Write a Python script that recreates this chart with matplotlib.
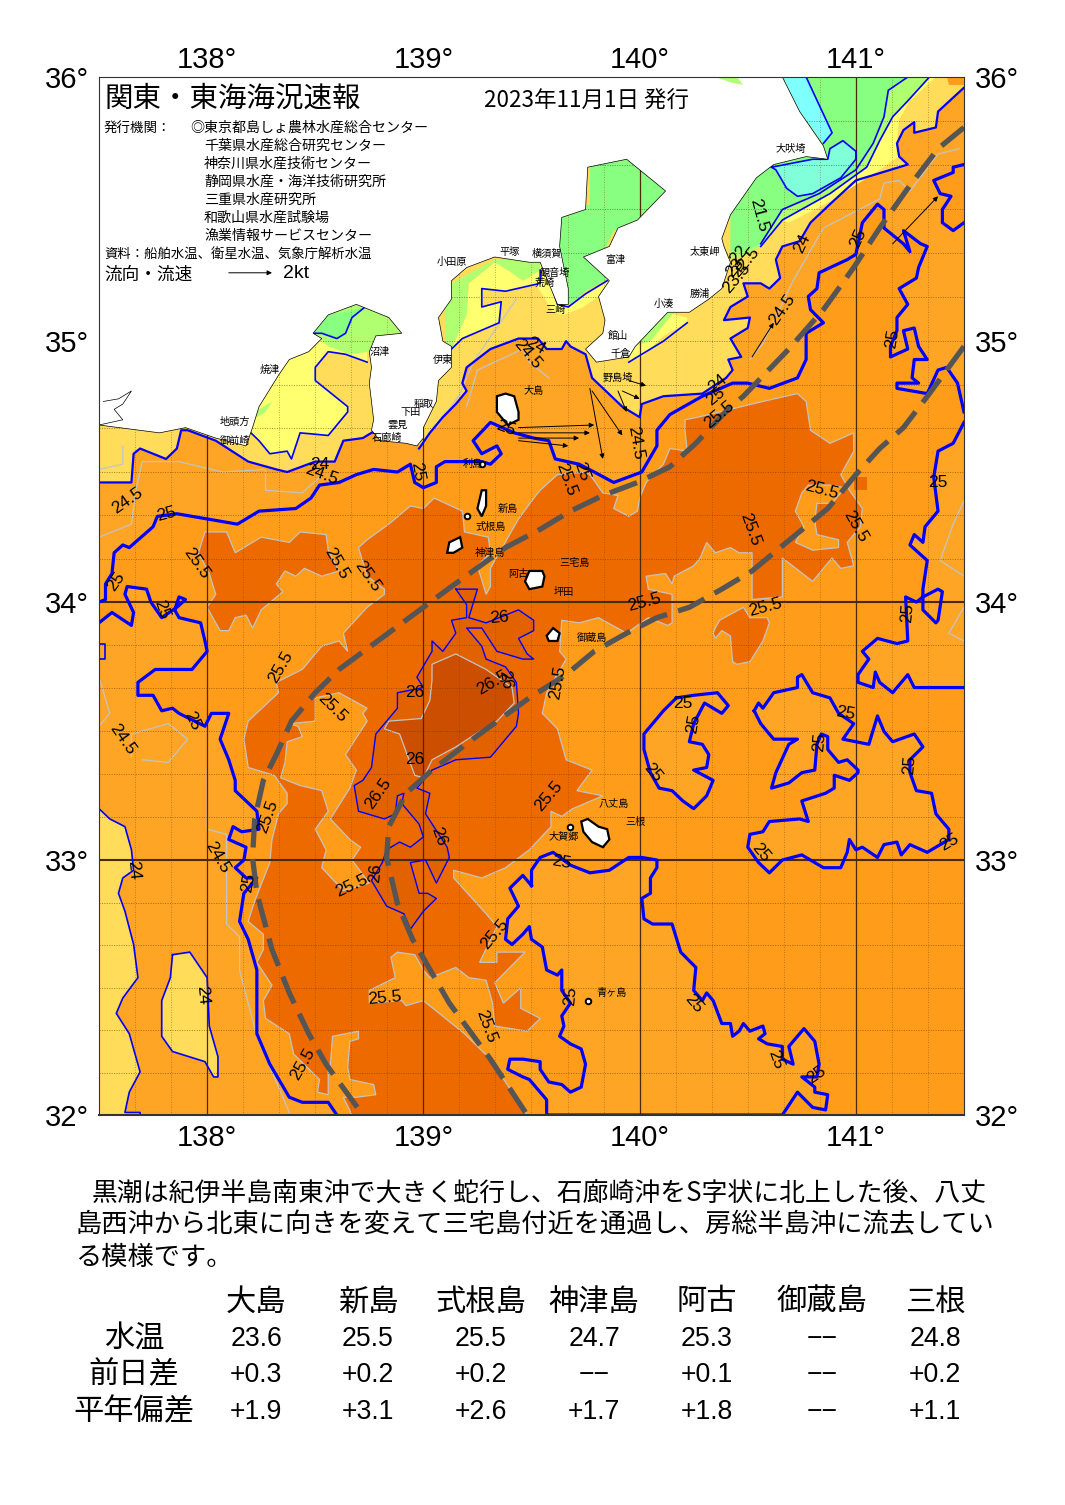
import numpy as np
import matplotlib
matplotlib.use('Agg')
import matplotlib.pyplot as plt

plt.rcParams['font.family'] = ['Noto Sans CJK JP', 'DejaVu Sans']
NUM_FONT = ['Liberation Sans', 'DejaVu Sans']

# map data, (lon, lat)
land = [(137.50,36.00),(137.50,34.68),(137.78,34.65),(137.90,34.67),(138.04,34.63),(138.18,34.60),(138.21,34.67),(138.24,34.75),(138.33,34.87),(138.38,34.93),(138.47,34.96),(138.53,35.01),(138.49,35.03),(138.56,35.10),(138.69,35.14),(138.84,35.09),(138.90,35.03),(138.78,35.02),(138.75,34.96),(138.76,34.90),(138.75,34.84),(138.76,34.77),(138.77,34.70),(138.76,34.66),(138.80,34.62),(138.92,34.61),(138.97,34.60),(139.00,34.63),(139.00,34.67),(139.06,34.77),(139.07,34.85),(139.13,34.90),(139.13,34.98),(139.09,35.00),(139.07,35.09),(139.13,35.16),(139.13,35.23),(139.20,35.28),(139.33,35.32),(139.49,35.30),(139.54,35.30),(139.58,35.22),(139.62,35.14),(139.67,35.14),(139.67,35.20),(139.63,35.36),(139.64,35.47),(139.75,35.50),(139.76,35.66),(139.94,35.69),(140.12,35.57),(139.99,35.46),(139.90,35.43),(139.86,35.36),(139.74,35.32),(139.86,35.23),(139.81,35.17),(139.84,35.08),(139.83,35.03),(139.75,34.97),(139.80,34.92),(139.95,34.94),(139.98,34.98),(140.13,35.11),(140.23,35.11),(140.32,35.16),(140.38,35.20),(140.42,35.30),(140.39,35.36),(140.38,35.39),(140.42,35.48),(140.54,35.62),(140.62,35.67),(140.77,35.70),(140.87,35.69),(140.85,35.74),(140.74,35.87),(140.66,36.00)]
shima_coast = [(137.52,34.77),(137.59,34.78),(137.65,34.81),(137.61,34.76),(137.57,34.74),(137.61,34.70),(137.50,34.68)]
top_strip = [(140.35,36.00),(140.45,36.00),(140.48,35.97),(140.42,35.98)]

blue_n = [(137.50,34.00),(137.53,34.01),(137.53,34.07),(137.56,34.11),(137.57,34.19),(137.61,34.22),(137.64,34.21),(137.75,34.29),(137.77,34.33),(137.86,34.34),(138.00,34.32),(138.14,34.30),(138.24,34.35),(138.41,34.36),(138.48,34.40),(138.52,34.45),(138.61,34.46),(138.69,34.49),(138.77,34.51),(138.88,34.50),(138.94,34.53),(138.96,34.46),(139.00,34.44),(139.06,34.46),(139.06,34.52),(139.10,34.54),(139.27,34.54),(139.31,34.53),(139.36,34.57),(139.34,34.60),(139.27,34.57),(139.23,34.62),(139.31,34.69),(139.42,34.65),(139.51,34.63),(139.58,34.62),(139.61,34.55),(139.72,34.53),(139.79,34.50),(139.88,34.46),(140.01,34.50),(140.08,34.60),(140.08,34.66),(140.14,34.72),(140.29,34.79),(140.43,34.84),(140.50,34.84),(140.60,34.82),(140.73,34.86),(140.77,34.93),(140.77,35.03),(140.85,35.07),(140.79,35.12),(140.78,35.17),(140.82,35.20),(140.83,35.26),(140.96,35.31),(141.00,35.33),(141.03,35.45),(141.10,35.52),(141.13,35.50),(141.13,35.43),(141.22,35.37),(141.25,35.34),(141.22,35.42),(141.30,35.37),(141.33,35.36),(141.29,35.28),(141.28,35.24),(141.20,35.20),(141.24,35.14),(141.19,35.09),(141.19,35.04),(141.16,34.98),(141.16,34.94),(141.24,34.97),(141.22,35.04),(141.27,35.05),(141.29,34.98),(141.33,34.93),(141.27,34.93),(141.26,34.86),(141.29,34.84),(141.19,34.84),(141.19,34.82),(141.33,34.80),(141.38,34.89),(141.42,34.90),(141.47,34.84),(141.50,34.73)]
blue_e = [(141.50,34.69),(141.45,34.61),(141.38,34.58),(141.36,34.48),(141.38,34.35),(141.32,34.29),(141.31,34.23),(141.27,34.26),(141.25,34.22),(141.33,34.16),(141.31,34.05),(141.31,34.02),(141.28,34.00),(141.23,34.02),(141.24,33.85),(141.19,33.84),(141.10,33.86),(141.03,33.81),(141.06,33.78),(141.01,33.72),(141.01,33.69),(141.08,33.67),(141.09,33.73),(141.11,33.69),(141.17,33.65),(141.24,33.72),(141.27,33.67),(141.33,33.67),(141.50,33.67)]
blue_e_loop = [(141.31,34.02),(141.38,34.05),(141.40,34.04),(141.38,33.93),(141.37,33.92),(141.31,33.97),(141.31,34.02)]
blue_pocket = [(141.50,35.67),(141.45,35.66),(141.45,35.64),(141.36,35.61),(141.39,35.56),(141.44,35.55),(141.40,35.50),(141.40,35.45),(141.45,35.42),(141.50,35.45)]
blue_w = [(137.50,33.92),(137.56,33.96),(137.65,33.91),(137.66,33.96),(137.62,34.03),(137.63,34.06),(137.72,34.05),(137.74,34.00),(137.79,33.94),(137.86,33.98),(137.90,34.01),(137.87,34.02),(137.85,33.97),(137.87,33.94),(137.97,33.92),(137.99,33.85),(138.00,33.81),(137.93,33.74),(137.76,33.74),(137.68,33.69),(137.68,33.64),(137.75,33.64),(137.79,33.58),(137.84,33.59),(137.87,33.57),(137.99,33.52),(138.02,33.57),(138.10,33.57),(138.06,33.47),(138.10,33.39),(138.13,33.31),(138.13,33.27),(138.23,33.19),(138.24,33.12),(138.16,33.11),(138.12,33.13),(138.10,33.08),(138.18,33.05),(138.17,33.00),(138.13,32.97),(138.18,32.93),(138.23,32.93),(138.17,32.87),(138.15,32.76),(138.19,32.69),(138.23,32.57),(138.23,32.32),(138.29,32.20),(138.38,32.07),(138.44,32.05),(138.56,32.05),(138.60,32.00)]
blue_lobe = [(140.17,33.63),(140.25,33.64),(140.36,33.65),(140.41,33.60),(140.38,33.57),(140.30,33.61),(140.25,33.53),(140.23,33.46),(140.29,33.45),(140.32,33.41),(140.31,33.36),(140.25,33.35),(140.34,33.31),(140.31,33.25),(140.25,33.20),(140.20,33.23),(140.15,33.27),(140.09,33.28),(140.05,33.34),(140.02,33.43),(140.02,33.49),(140.11,33.58),(140.17,33.63)]
blue_r = [(140.53,33.58),(140.55,33.61),(140.57,33.59),(140.62,33.65),(140.73,33.67),(140.73,33.71),(140.75,33.72),(140.80,33.65),(140.88,33.63),(140.92,33.57),(140.99,33.53),(140.94,33.47),(141.06,33.45),(141.10,33.56),(141.13,33.50),(141.17,33.46),(141.27,33.49),(141.31,33.44),(141.25,33.39),(141.25,33.34),(141.28,33.27),(141.35,33.26),(141.37,33.18),(141.43,33.12),(141.43,33.08),(141.33,33.03),(141.25,33.06),(141.21,33.02),(141.19,33.07),(141.13,33.06),(141.10,33.01),(141.03,33.05),(141.00,33.04),(140.97,33.08),(140.96,33.03),(140.93,32.97),(140.85,32.97),(140.75,33.02),(140.66,33.00),(140.60,32.95),(140.55,32.99),(140.50,33.05),(140.51,33.10),(140.57,33.11),(140.60,33.15),(140.74,33.16),(140.78,33.15),(140.75,33.23),(140.86,33.26),(140.90,33.28),(140.90,33.33),(140.97,33.31),(141.01,33.34),(141.01,33.35),(140.96,33.39),(140.92,33.38),(140.87,33.43),(140.87,33.48),(140.84,33.49),(140.82,33.45),(140.81,33.35),(140.75,33.34),(140.69,33.30),(140.61,33.28),(140.63,33.34),(140.69,33.45),(140.73,33.47),(140.62,33.47),(140.56,33.53),(140.53,33.58)]
blue_t = [(139.50,32.90),(139.50,32.96),(139.54,33.01),(139.60,33.03),(139.68,32.98),(139.77,32.95),(139.86,32.96),(139.95,33.01),(140.01,33.01),(140.08,33.00),(140.08,32.97),(140.05,32.93),(140.05,32.87),(140.01,32.85),(140.02,32.77),(140.06,32.75),(140.15,32.75),(140.19,32.64),(140.26,32.58),(140.25,32.49),(140.29,32.45),(140.31,32.48),(140.34,32.45),(140.38,32.36),(140.42,32.36),(140.43,32.31),(140.46,32.33),(140.48,32.36),(140.51,32.33),(140.57,32.35),(140.58,32.32),(140.55,32.30),(140.59,32.28),(140.66,32.27),(140.66,32.22),(140.71,32.20),(140.69,32.27),(140.76,32.34),(140.81,32.29),(140.83,32.20),(140.82,32.15),(140.75,32.15),(140.81,32.11),(140.81,32.09),(140.87,32.08),(140.86,32.02),(140.80,32.03),(140.73,32.09),(140.66,32.00),(139.57,32.00),(139.57,32.06),(139.49,32.14),(139.46,32.15),(139.39,32.18),(139.40,32.22),(139.46,32.22),(139.54,32.21),(139.54,32.18),(139.58,32.13),(139.64,32.12),(139.68,32.09),(139.73,32.11),(139.75,32.20),(139.73,32.26),(139.68,32.28),(139.63,32.31),(139.65,32.35),(139.64,32.39),(139.68,32.44),(139.64,32.49),(139.64,32.57),(139.62,32.55),(139.57,32.57),(139.55,32.66),(139.50,32.69),(139.49,32.74),(139.46,32.71),(139.41,32.67),(139.38,32.69),(139.39,32.77),(139.44,32.82),(139.40,32.89),(139.46,32.94),(139.50,32.90)]
blue_24_left = [(137.50,33.20),(137.55,33.16),(137.62,33.13),(137.65,33.04),(137.66,32.96),(137.61,32.93),(137.59,32.87),(137.62,32.80),(137.66,32.67),(137.68,32.54),(137.61,32.46),(137.58,32.40),(137.64,32.32),(137.69,32.17),(137.64,32.09),(137.62,32.01),(137.69,32.01),(137.69,32.00)]
patch_24 = [(137.84,32.63),(137.92,32.64),(138.00,32.54),(138.01,32.35),(138.05,32.23),(138.05,32.15),(138.03,32.15),(137.99,32.21),(137.84,32.25),(137.79,32.31),(137.79,32.45),(137.83,32.54),(137.84,32.63)]
small_square = [(137.50,33.84),(137.53,33.84),(137.53,33.78),(137.50,33.78)]

dark_main = [(140.21,34.70),(140.27,34.71),(140.57,34.77),(140.73,34.80),(140.77,34.77),(140.79,34.66),(140.88,34.61),(140.99,34.65),(140.99,34.58),(140.93,34.49),(140.97,34.43),(141.03,34.36),(141.02,34.29),(140.96,34.23),(140.99,34.14),(140.93,34.13),(140.89,34.17),(140.80,34.08),(140.66,34.17),(140.66,34.02),(140.52,34.01),(140.52,34.12),(140.52,34.19),(140.46,34.19),(140.42,34.21),(140.35,34.19),(140.31,34.23),(140.28,34.17),(140.25,34.14),(140.16,34.10),(140.15,34.07),(140.12,34.11),(140.03,34.10),(140.04,34.05),(140.15,34.03),(140.15,33.92),(140.13,33.91),(140.04,33.94),(139.94,33.88),(139.81,33.94),(139.72,33.92),(139.64,33.93),(139.63,33.81),(139.66,33.78),(139.57,33.65),(139.55,33.57),(139.62,33.51),(139.66,33.39),(139.78,33.35),(139.71,33.27),(139.83,33.25),(139.69,33.20),(139.64,33.17),(139.59,33.19),(139.59,33.13),(139.49,33.04),(139.38,32.97),(139.27,32.93),(139.14,32.96),(139.14,32.93),(139.29,32.79),(139.34,32.74),(139.26,32.60),(139.34,32.60),(139.34,32.64),(139.47,32.64),(139.40,32.58),(139.33,32.52),(139.37,32.44),(139.45,32.50),(139.45,32.42),(139.54,32.38),(139.48,32.33),(139.33,32.35),(139.32,32.44),(139.29,32.53),(139.21,32.54),(139.15,32.58),(139.03,32.54),(139.00,32.57),(138.96,32.63),(138.88,32.64),(138.85,32.62),(138.87,32.54),(138.75,32.49),(138.75,32.44),(138.90,32.45),(138.92,32.43),(139.00,32.45),(139.19,32.32),(139.31,32.22),(139.48,32.00),(138.67,32.00),(138.63,32.07),(138.69,32.07),(138.78,32.08),(138.77,32.12),(138.66,32.14),(138.65,32.19),(138.66,32.29),(138.70,32.30),(138.70,32.33),(138.58,32.31),(138.57,32.20),(138.56,32.18),(138.56,32.08),(138.51,32.09),(138.52,32.14),(138.40,32.24),(138.38,32.32),(138.27,32.38),(138.26,32.45),(138.30,32.51),(138.23,32.60),(138.26,32.65),(138.26,32.71),(138.19,32.76),(138.22,32.84),(138.29,32.99),(138.30,33.08),(138.33,33.18),(138.37,33.22),(138.37,33.26),(138.31,33.33),(138.19,33.36),(138.17,33.47),(138.19,33.54),(138.33,33.65),(138.32,33.69),(138.44,33.74),(138.53,33.83),(138.61,33.85),(138.65,33.81),(138.63,33.88),(138.74,33.98),(138.82,34.03),(138.82,34.05),(138.74,34.10),(138.70,34.21),(138.74,34.24),(138.84,34.30),(138.94,34.37),(139.00,34.36),(139.05,34.40),(139.18,34.35),(139.19,34.27),(139.30,34.25),(139.31,34.19),(139.25,34.14),(139.29,34.03),(139.31,34.06),(139.31,34.13),(139.44,34.32),(139.52,34.41),(139.54,34.43),(139.62,34.49),(139.75,34.50),(139.77,34.49),(139.83,34.42),(139.90,34.41),(139.88,34.36),(139.95,34.33),(139.99,34.35),(140.00,34.40),(140.03,34.46),(140.11,34.53),(140.14,34.59),(140.22,34.58),(140.21,34.66)]
dark_west = [(137.99,34.27),(138.09,34.27),(138.13,34.19),(138.25,34.25),(138.38,34.23),(138.43,34.27),(138.55,34.26),(138.56,34.20),(138.61,34.12),(138.53,34.10),(138.45,34.13),(138.41,34.10),(138.36,34.12),(138.32,34.07),(138.35,34.04),(138.25,33.97),(138.21,33.90),(138.18,33.95),(138.13,33.94),(138.10,33.89),(138.06,33.89),(138.00,33.98),(138.04,34.03),(138.01,34.11),(137.96,34.19)]
dark_blob = [(140.34,33.88),(140.35,33.90),(140.37,33.93),(140.48,33.98),(140.51,33.94),(140.59,33.94),(140.60,33.92),(140.57,33.85),(140.51,33.77),(140.45,33.76),(140.43,33.77),(140.42,33.87),(140.38,33.89),(140.35,33.86)]
dark_square = [(140.99,34.48),(141.05,34.48),(141.05,34.43),(140.99,34.43)]
light_bubble = [(140.78,34.45),(140.88,34.45),(140.95,34.44),(140.89,34.38),(140.82,34.38),(140.81,34.31),(140.82,34.26),(140.92,34.24),(140.92,34.21),(140.80,34.20),(140.72,34.23),(140.76,34.29),(140.72,34.35),(140.75,34.42)]
light_mid = [(138.38,33.53),(138.50,33.54),(138.50,33.63),(138.61,33.65),(138.74,33.59),(138.72,33.57),(138.74,33.54),(138.64,33.41),(138.69,33.35),(138.66,33.28),(138.57,33.16),(138.66,33.08),(138.71,33.05),(138.67,33.00),(138.75,32.91),(138.63,32.88),(138.53,32.97),(138.55,33.04),(138.50,33.12),(138.56,33.19),(138.53,33.27),(138.43,33.29),(138.34,33.32),(138.36,33.38),(138.37,33.46),(138.44,33.48),(138.42,33.52)]
center_26 = [(139.15,34.05),(139.25,34.05),(139.21,33.94),(139.29,33.92),(139.44,33.97),(139.51,33.93),(139.51,33.89),(139.44,33.86),(139.48,33.80),(139.51,33.78),(139.46,33.78),(139.34,33.81),(139.27,33.90),(139.20,33.90),(139.27,33.83),(139.29,33.78),(139.38,33.75),(139.43,33.69),(139.44,33.57),(139.43,33.52),(139.31,33.40),(139.15,33.39),(139.04,33.35),(138.97,33.28),(139.03,33.26),(139.01,33.18),(139.11,33.05),(139.12,33.01),(139.09,32.96),(139.06,32.91),(139.01,33.00),(138.94,32.99),(138.98,32.87),(139.02,32.87),(139.06,32.85),(139.00,32.80),(138.94,32.73),(138.91,32.79),(138.83,32.82),(138.76,32.92),(138.81,32.99),(138.83,33.04),(138.89,33.07),(138.94,33.05),(139.00,33.09),(138.98,33.14),(138.90,33.22),(138.91,33.26),(138.88,33.25),(138.87,33.18),(138.82,33.16),(138.70,33.19),(138.68,33.29),(138.72,33.31),(138.76,33.36),(138.78,33.49),(138.88,33.59),(138.88,33.65),(139.00,33.67),(138.97,33.71),(139.04,33.81),(139.04,33.85),(139.09,33.81),(139.15,33.88),(139.13,33.93),(139.20,33.94),(139.20,33.99),(139.15,34.05)]
center_265 = [(139.04,33.76),(139.15,33.80),(139.29,33.74),(139.41,33.67),(139.42,33.61),(139.34,33.54),(139.26,33.50),(139.15,33.44),(139.04,33.39),(139.00,33.32),(138.96,33.33),(138.89,33.49),(138.82,33.51),(138.84,33.54),(138.99,33.55),(139.03,33.62),(139.04,33.70)]

z24_west = [(137.50,34.46),(137.65,34.46),(137.66,34.57),(137.69,34.59),(137.81,34.55),(137.86,34.59),(137.88,34.66),(137.91,34.66),(138.04,34.62),(138.19,34.54),(138.32,34.51),(138.37,34.50),(138.50,34.54),(138.59,34.54),(138.63,34.62),(138.72,34.63),(138.82,34.68),(138.82,35.16),(137.50,35.16)]
z23_west = [(138.74,34.92),(138.64,34.95),(138.56,34.96),(138.50,34.90),(138.50,34.85),(138.65,34.75),(138.65,34.73),(138.58,34.66),(138.56,34.64),(138.43,34.65),(138.39,34.55),(138.37,34.58),(138.29,34.57),(138.24,34.62),(138.19,34.66),(138.21,34.69),(138.24,34.85),(138.43,35.08),(138.74,35.08)]
suruga_yg = [(138.49,35.03),(138.56,35.10),(138.69,35.15),(138.75,35.14),(138.84,35.09),(138.90,35.03),(138.78,35.02),(138.75,34.96),(138.66,34.95),(138.56,34.98)]
suruga_g = [(138.49,35.03),(138.56,35.10),(138.69,35.12),(138.73,35.13),(138.67,35.09),(138.64,35.03),(138.60,35.01),(138.53,35.03)]
omaezaki_yg = [(138.22,34.73),(138.30,34.77),(138.27,34.73),(138.23,34.71)]
z24_east = [(138.98,34.59),(139.03,34.65),(139.09,34.71),(139.15,34.76),(139.20,34.81),(139.18,34.84),(139.20,34.90),(139.31,34.97),(139.44,35.01),(139.53,35.01),(139.57,34.97),(139.64,34.97),(139.66,35.00),(139.68,34.98),(139.75,34.95),(139.78,34.86),(139.92,34.75),(140.00,34.71),(140.01,34.76),(140.11,34.79),(140.29,34.80),(140.40,34.86),(140.43,34.89),(140.41,34.93),(140.47,34.94),(140.42,35.01),(140.50,35.05),(140.51,35.09),(140.39,35.08),(140.42,35.13),(140.50,35.17),(140.48,35.22),(140.56,35.22),(140.60,35.20),(140.65,35.24),(140.63,35.31),(140.66,35.36),(140.74,35.38),(140.79,35.45),(140.88,35.52),(141.00,35.61),(141.16,35.65),(141.24,35.67),(141.20,35.70),(141.19,35.75),(141.22,35.80),(141.27,35.83),(141.27,35.79),(141.37,35.81),(141.38,35.87),(141.50,35.96)]
corner_orange = [(141.42,36.00),(141.50,36.00),(141.50,35.97),(141.43,35.97)]
ne_y = [(141.37,36.00),(141.25,35.91),(141.20,35.84),(141.19,35.75),(141.20,35.70),(141.16,35.68),(141.11,35.65),(140.88,35.53),(140.69,35.45),(140.66,35.46),(140.88,35.56),(141.05,35.66),(141.11,35.76),(141.17,35.85),(141.24,35.91),(141.24,36.00)]
ne_yg = [(141.24,36.00),(141.34,36.00),(141.24,35.91),(141.17,35.85),(141.11,35.76),(141.05,35.66),(140.88,35.56),(140.66,35.46),(140.56,35.36),(140.48,35.32),(140.42,35.32),(140.42,35.60),(140.66,36.00)]
ne_g = [(141.24,36.00),(141.15,35.95),(141.13,35.85),(141.08,35.75),(141.00,35.65),(140.83,35.56),(140.66,35.50),(140.56,35.37),(140.48,35.34),(140.42,35.34),(140.42,35.60),(140.66,36.00)]
ne_aqua = [(140.61,35.66),(140.80,35.69),(140.87,35.69),(140.88,35.73),(140.94,35.76),(141.00,35.72),(141.00,35.69),(140.93,35.62),(140.80,35.56),(140.73,35.55),(140.68,35.58),(140.63,35.65)]
ne_cyan = [(140.66,36.00),(140.77,36.00),(140.85,35.86),(140.89,35.79),(140.85,35.75),(140.74,35.87)]
tokyo_g = [(139.63,35.16),(139.63,35.48),(139.77,35.52),(139.77,35.69),(139.95,35.71),(140.14,35.57),(140.00,35.44),(139.88,35.42),(139.84,35.35),(139.75,35.32),(139.86,35.24),(139.75,35.19),(139.68,35.14),(139.63,35.14)]
tokyo_y = [(139.49,35.28),(139.54,35.30),(139.60,35.19),(139.62,35.14),(139.67,35.13),(139.75,35.18),(139.85,35.23),(139.88,35.23),(139.81,35.17),(139.74,35.13),(139.65,35.10),(139.60,35.11),(139.54,35.19),(139.49,35.26)]
sagami_g = [(139.10,35.14),(139.13,35.22),(139.33,35.31),(139.54,35.31),(139.54,35.27),(139.46,35.23),(139.41,35.26),(139.33,35.30),(139.21,35.22),(139.20,35.10),(139.13,34.97),(139.10,34.98)]
sagami_y = [(139.13,34.97),(139.18,35.01),(139.35,35.07),(139.36,35.15),(139.27,35.13),(139.27,35.20),(139.38,35.19),(139.54,35.22),(139.54,35.27),(139.46,35.23),(139.41,35.26),(139.33,35.30),(139.21,35.22),(139.20,35.10)]
boso_y = [(139.95,34.92),(139.97,34.98),(140.12,35.11),(140.22,35.09),(140.22,35.07),(140.11,35.02),(140.01,34.94)]
boso_yg = [(139.97,34.98),(140.12,35.11),(140.16,35.11),(140.05,35.00)]
boso_line = [(139.95,34.92),(140.11,35.00),(140.22,35.07)]

kuroshio_1 = [(141.50,35.81),(141.38,35.73),(141.24,35.58),(141.11,35.43),(140.99,35.28),(140.85,35.12),(140.69,34.97),(140.48,34.79),(140.42,34.75),(140.26,34.61),(140.14,34.52),(139.99,34.46),(139.83,34.41),(139.68,34.35),(139.54,34.28),(139.38,34.21),(139.13,34.06),(139.00,33.98),(138.87,33.90),(138.74,33.82),(138.61,33.74),(138.50,33.65),(138.39,33.54),(138.32,33.41),(138.26,33.31),(138.22,33.16),(138.21,33.01),(138.23,32.87),(138.30,32.65),(138.38,32.48),(138.47,32.32),(138.55,32.20),(138.72,32.00)]
kuroshio_2 = [(141.50,34.98),(141.34,34.80),(141.22,34.67),(141.11,34.59),(141.00,34.49),(140.87,34.36),(140.65,34.21),(140.52,34.12),(140.38,34.05),(140.23,33.98),(140.08,33.94),(139.94,33.88),(139.79,33.81),(139.66,33.72),(139.49,33.63),(139.26,33.49),(139.04,33.35),(138.92,33.26),(138.84,33.13),(138.83,33.01),(138.88,32.83),(138.95,32.69),(139.12,32.44),(139.31,32.22),(139.48,32.00)]

gray_lines = [
    [(137.50,34.25),(137.65,34.30),(137.67,34.43),(137.70,34.54),(137.87,34.54),(138.07,34.50),(138.27,34.51),(138.27,34.43),(138.44,34.42),(138.52,34.48)],
    [(137.61,34.60),(137.61,34.53),(137.50,34.51)],
    [(137.50,33.71),(137.55,33.57),(137.50,33.52)],
    [(137.65,33.40),(137.65,33.49),(137.82,33.53),(137.91,33.47),(137.82,33.38),(137.70,33.39)],
    [(138.00,33.35),(138.00,33.12),(138.09,33.10),(138.09,32.91),(138.09,32.75),(138.15,32.70),(138.15,32.57),(138.23,32.31),(138.38,32.01)],
    [(140.51,34.93),(140.57,34.99),(140.71,35.23),(140.85,35.43),(141.11,35.54),(141.13,35.60),(141.20,35.61),(141.25,35.57),(141.38,35.71),(141.48,35.73)],
    [(139.06,34.67),(139.17,34.80),(139.23,34.92),(139.43,35.16)],
    [(139.20,34.75),(139.25,34.89),(139.46,34.97),(139.49,34.92),(139.58,34.86)],
    [(141.50,34.39),(141.45,34.30),(141.39,34.16),(141.50,34.10)],
    [(141.50,33.98),(141.43,33.88),(141.50,33.85)],
]

oshima = [(139.34,34.79),(139.38,34.80),(139.42,34.79),(139.44,34.73),(139.44,34.70),(139.39,34.68),(139.34,34.73)]
niijima = [(139.27,34.43),(139.29,34.43),(139.29,34.37),(139.27,34.33),(139.25,34.36)]
kozushima = [(139.12,34.23),(139.17,34.25),(139.18,34.21),(139.14,34.19),(139.11,34.19)]
miyake = [(139.49,34.12),(139.55,34.12),(139.56,34.10),(139.55,34.06),(139.49,34.05),(139.47,34.08)]
mikura = [(139.57,33.87),(139.60,33.90),(139.63,33.88),(139.62,33.85),(139.58,33.85)]
hachijo = [(139.73,33.15),(139.76,33.16),(139.81,33.13),(139.85,33.12),(139.86,33.08),(139.83,33.05),(139.78,33.07),(139.74,33.11)]
islets = [(139.27,34.53),(139.20,34.33),(139.68,33.13),(139.76,32.45)]

arrow_tails = [(140.52,34.94),(141.17,35.37),(139.44,34.67),(139.44,34.65),(139.44,34.63),(139.44,34.62),(139.77,34.82),(139.78,34.81),(139.95,34.85),(139.92,34.81),(139.90,34.81),(138.10,35.26)]
arrow_heads = [(140.62,35.07),(141.38,35.55),(139.79,34.68),(139.77,34.65),(139.72,34.63),(139.67,34.60),(139.83,34.55),(139.92,34.64),(140.03,34.83),(140.00,34.78),(139.94,34.73),(138.30,35.26)]

contour_labels = [
    ('21.5',140.55,35.48,-75),('24',140.75,35.37,65),('24.5',140.66,35.12,55),('25',141.01,35.39,65),
    ('25',141.17,35.01,80),('24',140.36,34.84,40),('25',140.35,34.79,40),('25.5',140.37,34.72,40),
    ('22',140.46,35.33,50),('22.5',140.49,35.30,50),('23',140.44,35.28,50),('23.5',140.45,35.24,50),
    ('24.5',139.98,34.61,-80),('24',139.52,34.98,-30),('24.5',139.48,34.95,-50),('25',139.38,34.67,-20),
    ('25.5',139.66,34.47,-70),('25',139.73,34.50,-70),('24.5',137.63,34.39,35),('25',137.81,34.34,15),
    ('25.5',137.95,34.15,-55),('25',137.58,34.08,55),('25',137.79,33.97,-70),('25.5',138.60,34.15,-60),
    ('25.5',138.74,34.10,-55),('24',138.52,34.53,0),('24.5',138.53,34.49,-20),('25',138.97,34.50,-80),
    ('26',139.35,33.94,5),('25.5',138.34,33.75,60),('25.5',138.58,33.59,-45),('26',138.96,33.65,0),
    ('26',138.96,33.39,0),('26.5',139.32,33.69,30),('26',139.38,33.70,-80),('25',137.93,33.54,-65),
    ('24.5',137.61,33.47,-55),('25.5',138.28,33.17,70),('26.5',138.79,33.26,55),('26',139.07,33.09,-70),
    ('26',138.78,32.95,85),('25.5',138.67,32.90,25),('24.5',138.05,33.01,-60),('24',137.66,32.96,-85),
    ('25',138.19,32.91,80),('24',137.98,32.47,-85),('25.5',138.82,32.46,5),('25.5',138.44,32.20,60),
    ('25.5',139.29,32.35,-70),('25.5',139.33,32.71,50),('25',139.64,32.99,-10),('25.5',139.58,33.25,50),
    ('25.5',139.62,33.69,80),('25.5',140.02,34.00,15),('25.5',140.58,33.98,15),('25.5',140.51,34.28,-70),
    ('25.5',140.84,34.43,-15),('25.5',141.00,34.29,-60),('25',141.38,34.46,0),('25',141.24,33.96,85),
    ('25',140.20,33.61,0),('25',140.25,33.53,80),('25',140.95,33.57,-10),('25',140.83,33.46,85),
    ('25',141.25,33.37,85),('25',140.06,33.34,-50),('25',140.56,33.03,-50),('25',141.43,33.07,30),
    ('25',139.68,32.47,85),('25',140.25,32.44,-50),('25',140.63,32.22,-70),('25',140.82,32.16,35),
]
place_names = ['大吠埼','太東岬','勝浦','小湊','館山','千倉','野島埼','富津','横須賀','観音埼','荒崎','三崎','平塚','小田原','伊東','沼津','焼津','稲取','下田','雲見','地頭方','御前崎','石廊崎','大島','利島','新島','式根島','神津島','阿古','三宅島','坪田','御蔵島','八丈島','三根','大賀郷','青ヶ島']
place_lon = [140.70,140.30,140.28,140.11,139.90,139.91,139.90,139.89,139.57,139.61,139.56,139.61,139.40,139.13,139.09,138.80,138.29,139.00,138.94,138.88,138.13,138.13,138.83,139.51,139.23,139.39,139.31,139.31,139.44,139.70,139.65,139.78,139.88,139.98,139.65,139.87]
place_lat = [35.73,35.34,35.18,35.14,35.02,34.95,34.86,35.31,35.33,35.26,35.22,35.12,35.34,35.30,34.93,34.96,34.89,34.76,34.73,34.68,34.69,34.62,34.63,34.81,34.53,34.36,34.29,34.19,34.11,34.15,34.04,33.86,33.22,33.15,33.09,32.48]

agencies = ['◎東京都島しょ農林水産総合センター','千葉県水産総合研究センター','神奈川県水産技術センター','静岡県水産・海洋技術研究所','三重県水産研究所','和歌山県水産試験場','漁業情報サービスセンター']
comment_lines = ['黒潮は紀伊半島南東沖で大きく蛇行し、石廊崎沖をS字状に北上した後、八丈','島西沖から北東に向きを変えて三宅島付近を通過し、房総半島沖に流去してい','る模様です。']
stations = ['大島','新島','式根島','神津島','阿古','御蔵島','三根']
water_temp = ['23.6','25.5','25.5','24.7','25.3','−−','24.8']
day_diff = ['+0.3','+0.2','+0.2','−−','+0.1','−−','+0.2']
normal_dev = ['+1.9','+3.1','+2.6','+1.7','+1.8','−−','+1.1']
row_names = ['水温','前日差','平年偏差']
lon_ticks = [138, 139, 140, 141]
lon_tick_labels = ['138°', '139°', '140°', '141°']

C_BASE = '#FF9C1A'
C_LIGHT = '#FFA526'
C_DARK = '#EC6A00'
C_26 = '#E26200'
C_265 = '#CC4E00'
C_24 = '#FFDC5A'
C_23 = '#FFFF70'
C_YG = '#B0FF70'
C_G = '#88FF80'
C_AQUA = '#80FFD8'
C_CYAN = '#80FFFF'
BLUE = '#0000FF'
GRAY = '#C4C4C4'


def merc(lat):
    return np.log(np.tan(np.pi / 4 + np.radians(lat) / 2))


def inv_merc(y):
    return np.degrees(2 * np.arctan(np.exp(y)) - np.pi / 2)


def fig_xy(x, y):
    return x / 1065, 1 - y / 1505


def zone(ax, poly, color, z, edge='none', lw=0):
    xs, ys = zip(*poly)
    ax.fill(xs, ys, facecolor=color, edgecolor=edge, linewidth=lw, zorder=z)


def line(ax, pts, color=BLUE, lw=1.7, z=7):
    xs, ys = zip(*pts)
    ax.plot(xs, ys, color=color, lw=lw, zorder=z, solid_joinstyle='round')


fig = plt.figure(figsize=(10.65, 15.05), dpi=100)
ax = fig.add_axes([99 / 1065, 1 - 1115 / 1505, 865 / 1065, 1038 / 1505])
ax.set_facecolor(C_BASE)
ax.set_yscale('function', functions=(merc, inv_merc))
ax.set_xlim(137.5, 141.5)
ax.set_ylim(32, 36)

# warm water zones, coldest on top of the warm ones near the coast
zone(ax, blue_n + [(141.5, 36.0), (137.5, 36.0)], C_LIGHT, 1)
zone(ax, blue_e, C_LIGHT, 1)
zone(ax, blue_w + [(137.5, 32.0)], C_LIGHT, 1)
zone(ax, blue_lobe, C_LIGHT, 1)
zone(ax, blue_r, C_LIGHT, 1)
zone(ax, blue_t, C_LIGHT, 1)
zone(ax, blue_pocket, C_BASE, 1.5)
zone(ax, blue_24_left + [(137.5, 32.0)], C_24, 2)
zone(ax, patch_24, C_24, 2)

zone(ax, dark_main, C_DARK, 2, GRAY, 0.9)
zone(ax, dark_west, C_DARK, 2, GRAY, 0.9)
zone(ax, dark_blob, C_DARK, 2, GRAY, 0.9)
zone(ax, dark_square, C_DARK, 2)
zone(ax, light_bubble, C_BASE, 2.2, GRAY, 0.9)
zone(ax, light_mid, C_BASE, 2.2, GRAY, 0.9)
zone(ax, center_26, C_26, 2.4)
zone(ax, center_265, C_265, 2.6, GRAY, 0.9)

zone(ax, z24_west, C_24, 3)
zone(ax, z24_east + [(141.5, 36.0), (138.98, 36.0)], C_24, 3)
zone(ax, corner_orange, C_BASE, 3.1)
zone(ax, z23_west, C_23, 3.2)
zone(ax, sagami_y, C_23, 3.2)
zone(ax, boso_y, C_23, 3.2)
zone(ax, tokyo_y, C_23, 3.2)
zone(ax, ne_y, C_23, 3.2)
zone(ax, suruga_yg, C_YG, 3.4)
zone(ax, omaezaki_yg, C_YG, 3.4)
zone(ax, sagami_g, C_YG, 3.4)
zone(ax, boso_yg, C_YG, 3.4)
zone(ax, ne_yg, C_YG, 3.4)
zone(ax, suruga_g, C_G, 3.6)
zone(ax, tokyo_g, C_G, 3.6)
zone(ax, ne_g, C_G, 3.6)
zone(ax, ne_aqua, C_AQUA, 3.8)
zone(ax, ne_cyan, C_CYAN, 3.8)

# 10 minute graticule and the full degree lines
for lon in np.arange(137.5 + 1 / 6, 141.5, 1 / 6):
    ax.axvline(lon, color='#6B3A00', lw=0.6, ls=(0, (1, 2)), alpha=0.55, zorder=5)
for lat in np.arange(32 + 1 / 6, 36, 1 / 6):
    ax.axhline(lat, color='#6B3A00', lw=0.7, ls=(0, (1, 1.5)), alpha=0.6, zorder=5)
for lon in lon_ticks:
    ax.axvline(lon, color='#4A2A00', lw=0.9, zorder=5)
for lat in [33, 34]:
    ax.axhline(lat, color='#4A2A00', lw=1.5, zorder=5)

for g in gray_lines:
    line(ax, g, GRAY, 0.9, 4)

# contours
line(ax, blue_n, lw=2.3)
line(ax, blue_e, lw=2.3)
line(ax, blue_e_loop, lw=2.3)
line(ax, blue_pocket, lw=2.3)
line(ax, blue_w, lw=2.3)
line(ax, blue_lobe, lw=2.3)
line(ax, blue_r, lw=2.3)
line(ax, blue_t, lw=2.3)
line(ax, small_square, lw=1.2)
line(ax, blue_24_left, lw=1.2)
line(ax, patch_24, lw=1.2)
line(ax, center_26, lw=1.0)
line(ax, z24_west[:17], lw=1.6)
line(ax, z24_east, lw=1.6)
line(ax, z23_west[:16], lw=1.2)
line(ax, sagami_y[:9], lw=1.2)
line(ax, suruga_g[3:] + suruga_g[:1], lw=1.2)
line(ax, boso_line, lw=1.2)
line(ax, tokyo_y[2:7], lw=1.2)
line(ax, ne_g[:8], lw=1.2)
line(ax, ne_yg[1:9], lw=1.2)
line(ax, ne_aqua + ne_aqua[:1], lw=1.2)
line(ax, ne_cyan[1:5], lw=1.2)

# kuroshio axis
for k in (kuroshio_1, kuroshio_2):
    xs, ys = zip(*k)
    ax.plot(xs, ys, color='#555555', lw=3.8, ls=(0, (5.5, 2.2)), zorder=8)

zone(ax, land, 'white', 10, 'black', 0.5)
line(ax, shima_coast, 'black', 0.5, 11)
zone(ax, top_strip, C_YG, 11)
for isl in (oshima, niijima, kozushima, miyake, mikura, hachijo):
    zone(ax, isl, 'white', 11, 'black', 1.6)
ix, iy = zip(*islets)
ax.plot(ix, iy, 'o', ms=4, mfc='white', mec='black', mew=1.4, ls='none', zorder=11)

for tail, head in zip(arrow_tails, arrow_heads):
    ax.annotate('', xy=head, xytext=tail, zorder=12,
                arrowprops=dict(arrowstyle='-|>', color='black', lw=0.7, mutation_scale=7,
                                shrinkA=0, shrinkB=0))

for txt, lon, lat, rot in contour_labels:
    ax.text(lon, lat, txt, family=NUM_FONT, fontsize=12.5, rotation=rot, ha='center', va='center',
            rotation_mode='anchor', zorder=13)
for name, lon, lat in zip(place_names, place_lon, place_lat):
    ax.text(lon, lat, name, fontsize=7.3, ha='center', va='center', zorder=13)

# ticks on all four sides, the top row on its own axis for its own padding
ax.set_xticks(lon_ticks, lon_tick_labels, family=NUM_FONT, fontsize=21)
ax.set_yticks([32, 33, 34, 35, 36], ['32°', '33°', '34°', '35°', '36°'], family=NUM_FONT, fontsize=21)
ax.minorticks_off()
ax.tick_params(top=False, bottom=False, left=False, right=False, labelright=True)
ax.tick_params(axis='x', which='major', pad=3)
ax.tick_params(axis='y', which='major', pad=4)
top_ax = ax.secondary_xaxis('top')
top_ax.set_xticks(lon_ticks, lon_tick_labels, family=NUM_FONT, fontsize=21)
top_ax.tick_params(top=False, pad=-1)
top_ax.spines['top'].set_visible(False)
for spine in ax.spines.values():
    spine.set_color('#333333')
    spine.set_linewidth(0.8)
    spine.set_zorder(14)
ax.spines['bottom'].set_linewidth(1.5)

# header block
fig.text(*fig_xy(104, 99), '関東・東海海況速報', fontsize=20.5, va='center', zorder=20)
fig.text(*fig_xy(484, 101), '2023年11月1日 発行', fontsize=16.2, va='center', zorder=20)
fig.text(*fig_xy(104, 128), '発行機関：', fontsize=9.7, va='center', zorder=20)
for i, a in enumerate(agencies):
    xpos = 190 if i == 0 else 204
    fig.text(*fig_xy(xpos, 128 + 18 * i), a, fontsize=10.1, va='center', zorder=20)
fig.text(*fig_xy(104, 254), '資料：船舶水温、衛星水温、気象庁解析水温', fontsize=9.6, va='center', zorder=20)
fig.text(*fig_xy(104, 275), '流向・流速', fontsize=12.7, va='center', zorder=20)
fig.text(*fig_xy(283, 274), '2kt', fontsize=14, va='center', family=NUM_FONT, zorder=20)

# comment and station table under the map
fig.text(*fig_xy(92, 1193), comment_lines[0], fontsize=18.6, va='center')
fig.text(*fig_xy(75, 1225), comment_lines[1], fontsize=18.9, va='center')
fig.text(*fig_xy(75, 1257), comment_lines[2], fontsize=18.9, va='center')

col_x = [256, 368, 481, 594, 707, 822, 935]
row_y = [1339, 1375, 1412]
for x, st, t, d, n in zip(col_x, stations, water_temp, day_diff, normal_dev):
    fig.text(*fig_xy(x, 1302), st, fontsize=21.8, ha='center', va='center')
    for y, v in zip(row_y, (t, d, n)):
        fig.text(*fig_xy(x, y), v, fontsize=19.2, ha='center', va='center', family=NUM_FONT)
for y, r in zip(row_y, row_names):
    fig.text(*fig_xy(134, y), r, fontsize=21.8, ha='center', va='center')

fig.savefig('out.png', dpi=100)
